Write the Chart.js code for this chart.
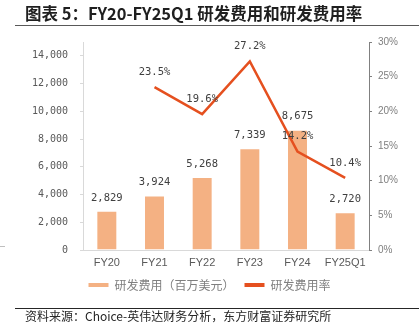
<!DOCTYPE html>
<html>
<head>
<meta charset="utf-8">
<script src="https://cdn.jsdelivr.net/npm/chart.js@4.4.1/dist/chart.umd.min.js"></script>
<style>
  html, body { margin: 0; padding: 0; background: #fff; }
  #chart { display: block; }
</style>
</head>
<body>
<canvas id="chart" width="419" height="336"></canvas>
<script>
// Data
const categories = ['FY20', 'FY21', 'FY22', 'FY23', 'FY24', 'FY25Q1'];
const rdExpense = [2829, 3924, 5268, 7339, 8675, 2720];        // 百万美元
const rdRate = [null, 23.5, 19.6, 27.2, 14.2, 10.4];           // %
const leftTicks = [0, 2000, 4000, 6000, 8000, 10000, 12000, 14000];

const titleText = '图表 5：FY20-FY25Q1 研发费用和研发费用率';
const sourceText = '资料来源：Choice-英伟达财务分析，东方财富证券研究所';

const BAR_COLOR = '#F4B183';
const LINE_COLOR = '#E5501F';
const CJK = '"Noto Sans CJK SC", "Noto Sans", sans-serif';
const MONO = '"DejaVu Sans Mono", monospace';

function fmtThousands(v) {
    return v.toLocaleString('en-US');
}

// title, rules and source note around the chart
const framePlugin = {
    id: 'frame',
    beforeDraw(chart) {
        const ctx = chart.ctx;
        ctx.save();
        ctx.fillStyle = '#fff';
        ctx.fillRect(0, 0, chart.width, chart.height);

        ctx.fillStyle = '#1f1f1f';
        ctx.font = 'bold 16.5px ' + CJK;
        ctx.textBaseline = 'middle';
        ctx.textAlign = 'left';
        ctx.fillText(titleText, 25, 14);

        ctx.strokeStyle = '#595959';
        ctx.lineWidth = 1;
        ctx.beginPath();
        ctx.moveTo(15, 25.5);
        ctx.lineTo(419, 25.5);
        ctx.stroke();

        ctx.strokeStyle = '#262626';
        ctx.beginPath();
        ctx.moveTo(15, 308.5);
        ctx.lineTo(419, 308.5);
        ctx.stroke();

        ctx.strokeStyle = '#bfbfbf';
        ctx.beginPath();
        ctx.moveTo(0, 246.5);
        ctx.lineTo(5, 246.5);
        ctx.stroke();

        ctx.fillStyle = '#262626';
        ctx.font = '12px ' + CJK;
        ctx.fillText(sourceText, 25, 316);
        ctx.restore();
    }
};

// value labels above bars and line points
const valueLabels = {
    id: 'valueLabels',
    afterDatasetsDraw(chart) {
        const ctx = chart.ctx;
        ctx.save();
        ctx.font = '10.5px ' + MONO;
        ctx.fillStyle = '#404040';
        ctx.textAlign = 'center';
        ctx.textBaseline = 'middle';

        chart.getDatasetMeta(0).data.forEach((bar, i) => {
            ctx.fillText(fmtThousands(rdExpense[i]), bar.x, bar.y - 13);
        });
        chart.getDatasetMeta(1).data.forEach((pt, i) => {
            if (rdRate[i] === null) return;
            ctx.fillText(rdRate[i].toFixed(1) + '%', pt.x, pt.y - 15);
        });
        ctx.restore();
    }
};

const ctx = document.getElementById('chart').getContext('2d');

new Chart(ctx, {
    type: 'bar',
    data: {
        labels: categories,
        datasets: [
            {
                type: 'bar',
                label: '研发费用（百万美元）',
                data: rdExpense,
                backgroundColor: BAR_COLOR,
                borderColor: '#ffffff',
                borderWidth: 1,
                barPercentage: 0.44,
                categoryPercentage: 1,
                yAxisID: 'y',
                order: 2
            },
            {
                type: 'line',
                label: '研发费用率',
                data: rdRate,
                borderColor: LINE_COLOR,
                backgroundColor: LINE_COLOR,
                borderWidth: 2.5,
                pointRadius: 0,
                tension: 0,
                spanGaps: false,
                yAxisID: 'y1',
                order: 1
            }
        ]
    },
    options: {
        responsive: false,
        animation: false,
        layout: {
            padding: { top: 42, left: 0, right: 0, bottom: 35 }
        },
        plugins: {
            legend: {
                position: 'bottom',
                labels: {
                    boxWidth: 20,
                    boxHeight: 4,
                    padding: 10,
                    color: '#7f7f7f',
                    font: { size: 12, family: CJK },
                    generateLabels(chart) {
                        return chart.data.datasets.map((ds, i) => ({
                            text: ds.label,
                            fillStyle: i === 0 ? BAR_COLOR : LINE_COLOR,
                            strokeStyle: i === 0 ? BAR_COLOR : LINE_COLOR,
                            lineWidth: 0,
                            fontColor: '#7f7f7f',
                            datasetIndex: i
                        }));
                    }
                }
            },
            tooltip: { enabled: false }
        },
        scales: {
            x: {
                grid: { display: false, drawTicks: false },
                border: { color: '#d9d9d9', width: 1 },
                ticks: {
                    color: '#595959',
                    padding: 6,
                    font: { size: 11, family: '"Liberation Sans", Arial, sans-serif' }
                },
                afterFit(scale) { scale.height = 19; }
            },
            y: {
                position: 'left',
                min: 0,
                max: 15000,
                afterBuildTicks(scale) {
                    scale.ticks = leftTicks.map(v => ({ value: v }));
                },
                grid: {
                    drawOnChartArea: false,
                    drawTicks: true,
                    tickLength: 3,
                    color: '#d9d9d9'
                },
                border: { color: '#d9d9d9', width: 1 },
                ticks: {
                    color: '#595959',
                    padding: 12,
                    font: { size: 10, family: MONO },
                    callback: v => fmtThousands(v)
                },
                afterFit(scale) { scale.width = 83; }
            },
            y1: {
                position: 'right',
                min: 0,
                max: 30,
                grid: {
                    drawOnChartArea: false,
                    drawTicks: true,
                    tickLength: 3,
                    color: '#808080'
                },
                border: { color: '#808080', width: 1 },
                ticks: {
                    stepSize: 5,
                    color: '#7f7f7f',
                    padding: 6,
                    font: { size: 10, family: '"Liberation Sans", Arial, sans-serif' },
                    callback: v => v + '%'
                },
                afterFit(scale) { scale.width = 50; }
            }
        }
    },
    plugins: [framePlugin, valueLabels]
});
</script>
</body>
</html>
